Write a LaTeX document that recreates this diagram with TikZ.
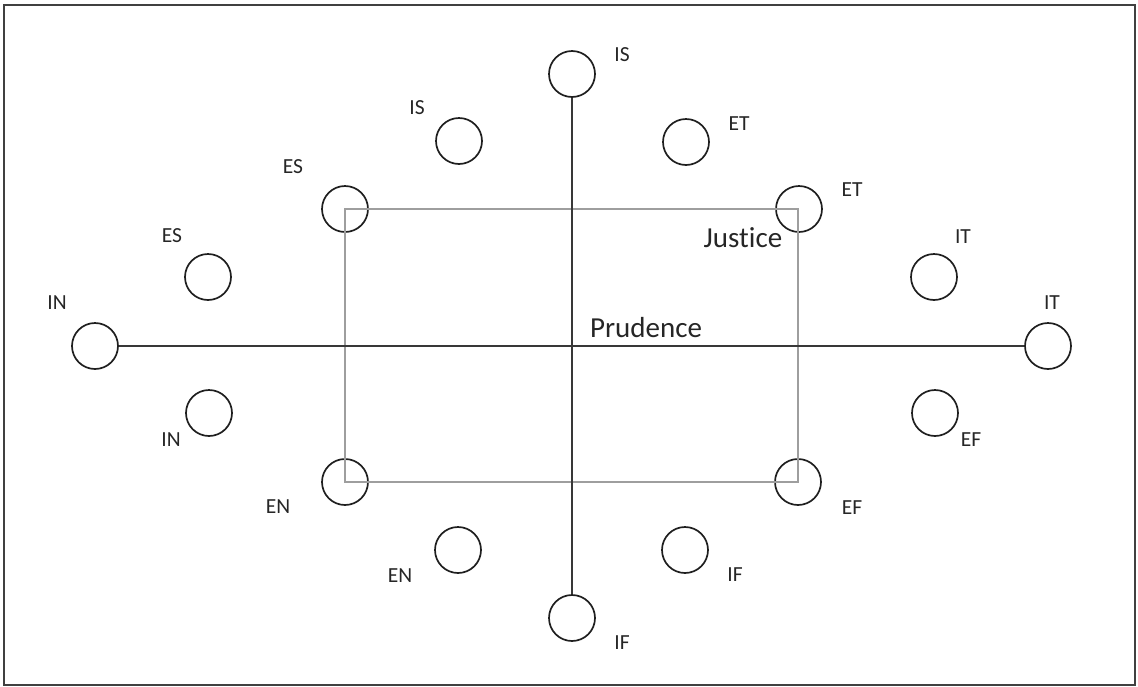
\documentclass[tikz,border=0pt]{standalone}
\usepackage{fontspec}
\setmainfont{Carlito}[Ligatures={NoCommon}]
\begin{document}
\begin{tikzpicture}[x=1pt,y=-1pt,
  pole/.style={circle,draw=black!88,line width=1.7pt,minimum size=46pt,inner sep=0pt},
  tag/.style={font=\fontsize{21.5}{25}\selectfont,text=black!85,inner sep=0pt},
  virtue/.style={font=\fontsize{29}{34}\selectfont,text=black!85,inner sep=0pt,anchor=base},
  axis/.style={draw=black!78,line width=1.7pt},
  square/.style={draw=black!38,line width=1.8pt}]
\useasboundingbox (0,0) rectangle (1138,686);
% outer frame
\draw[black!75,line width=2pt] (4,5) rectangle (1135,685);

% circles
\node[pole] (c1)  at (572,74)  {};
\node[pole] (c2)  at (459,141) {};
\node[pole] (c3)  at (686,142) {};
\node[pole] (c4)  at (345,209) {};
\node[pole] (c5)  at (799,209) {};
\node[pole] (c6)  at (208,277) {};
\node[pole] (c7)  at (934,277) {};
\node[pole] (c8)  at (95,346)  {};
\node[pole] (c9)  at (1048,346) {};
\node[pole] (c10) at (209,413) {};
\node[pole] (c11) at (935,413) {};
\node[pole] (c12) at (345,482) {};
\node[pole] (c13) at (798,482) {};
\node[pole] (c14) at (458,550) {};
\node[pole] (c15) at (685,550) {};
\node[pole] (c16) at (572,618) {};

% Justice square through the four inner corners
\draw[square] (c4.center) rectangle (c13.center);

% axes
\draw[axis] (c1.south) -- (c16.north);
\draw[axis] (c8.east) -- (c9.west);
\coordinate (stub) at (172,346);
\draw[axis,line width=2.3pt] (c8.east) -- (stub);

% circle labels
\node[tag] (l1)  at (622,55)  {IS};
\node[tag] (l2)  at (417,108) {IS};
\node[tag] (l3)  at (739,124) {ET};
\node[tag] (l4)  at (293,167) {ES};
\node[tag] (l5)  at (852,190) {ET};
\node[tag] (l6)  at (172,236) {ES};
\node[tag] (l7)  at (963,237) {IT};
\node[tag] (l8)  at (57,303)  {IN};
\node[tag] (l9)  at (1052,303) {IT};
\node[tag] (l10) at (171,440) {IN};
\node[tag] (l11) at (971,440) {EF};
\node[tag] (l12) at (278,507) {EN};
\node[tag] (l13) at (852,508) {EF};
\node[tag] (l14) at (400,576) {EN};
\node[tag] (l15) at (735,575) {IF};
\node[tag] (l16) at (622,643) {IF};

% virtue names
\node[virtue] (prudence) at (646,337) {Prudence};
\node[virtue] (justice)  at (743,247) {Justice};
\end{tikzpicture}
\end{document}
